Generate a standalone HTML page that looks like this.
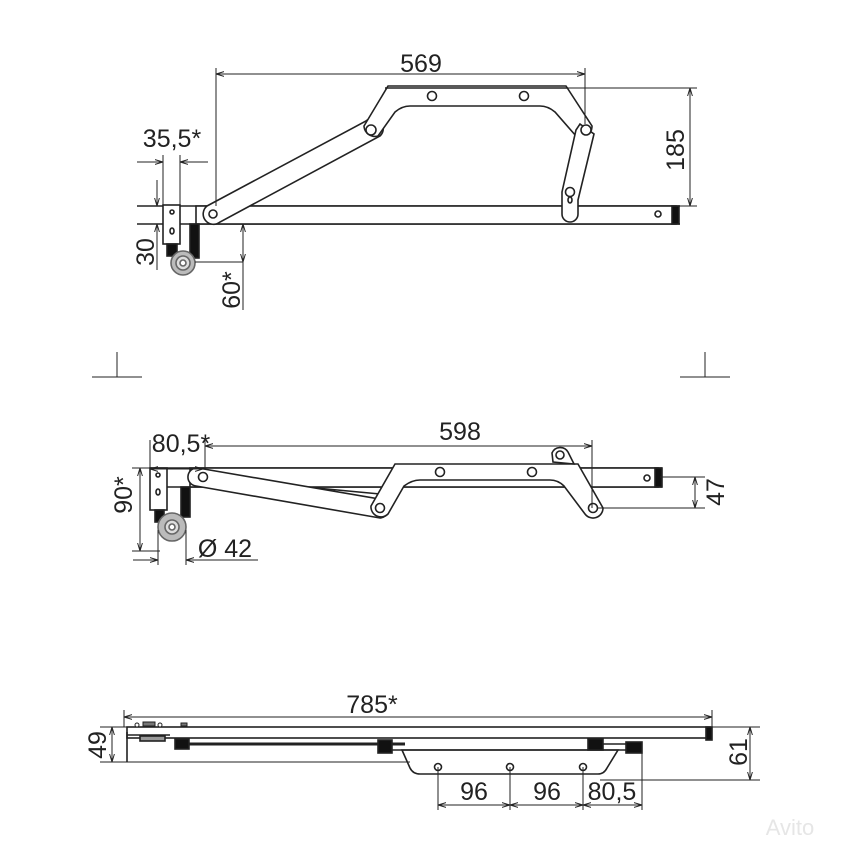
<!DOCTYPE html>
<html><head><meta charset="utf-8"><style>
html,body{margin:0;padding:0;background:#fff;}
svg{display:block;}
text{font-family:"Liberation Sans",sans-serif;font-size:25px;fill:#222;}
</style></head><body>
<svg width="851" height="851" viewBox="0 0 851 851" xmlns="http://www.w3.org/2000/svg">
<defs>
<marker id="a" viewBox="0 0 10 10" refX="10" refY="5" markerWidth="8" markerHeight="8" orient="auto-start-reverse"><path d="M0,2 L10,5 L0,8" fill="none" stroke="#222" stroke-width="1.2"/></marker>
</defs>
<g stroke="#222" stroke-width="1.6" fill="#fff">
<!-- ===== TOP VIEW ===== -->
<line x1="137" y1="206" x2="680" y2="206"/>
<line x1="137" y1="224" x2="680" y2="224"/>
<rect x="196" y="206" width="480" height="18"/>
<rect x="672" y="206" width="7" height="18" fill="#111"/>
<circle cx="658" cy="214" r="3"/>
<rect x="163" y="205" width="17" height="39"/>
<circle cx="172" cy="212" r="2"/>
<ellipse cx="172" cy="231" rx="2" ry="3"/>
<rect x="167" y="244" width="10" height="12" fill="#111"/>
<rect x="190" y="224" width="9" height="34" fill="#111"/>
<circle cx="183" cy="263" r="12" fill="#bbb" stroke="#666"/>
<circle cx="183" cy="263" r="7" fill="#ddd" stroke="#666"/>
<circle cx="183" cy="263" r="3" fill="#fff" stroke="#666"/>
<path d="M207,206 L366,121 A10,10 0 0 1 380,136 L220,222 A9,9 0 0 1 207,206 Z"/>
<circle cx="213" cy="214" r="4"/>
<path d="M364,126 L388,86 L566,86 L592,126 A11,11 0 0 1 576,136 L555,112 Q548,106 540,106 L410,106 Q402,106 395,112 L378,136 A11,11 0 0 1 364,126 Z"/>
<line x1="385" y1="88" x2="568" y2="88"/>
<circle cx="432" cy="96" r="4.5"/>
<circle cx="524" cy="96" r="4.5"/>
<circle cx="371" cy="130" r="5"/>
<path d="M580,124 L594,134 L578,200 L578,214 A8,8 0 0 1 562,214 L562,192 L576,130 Z"/>
<circle cx="586" cy="130" r="5"/>
<circle cx="570" cy="192" r="4.5"/>
<ellipse cx="570" cy="200" rx="2" ry="3"/>
<g fill="none" stroke-width="1">
<line x1="216" y1="68" x2="216" y2="206"/>
<line x1="585" y1="68" x2="585" y2="124"/>
<line x1="216" y1="74" x2="585" y2="74" marker-start="url(#a)" marker-end="url(#a)"/>
<line x1="565" y1="88" x2="697" y2="88"/>
<line x1="680" y1="206" x2="697" y2="206"/>
<line x1="690" y1="88" x2="690" y2="206" marker-start="url(#a)" marker-end="url(#a)"/>
<line x1="137" y1="162" x2="163" y2="162" marker-end="url(#a)"/>
<line x1="208" y1="162" x2="180" y2="162" marker-end="url(#a)"/>
<line x1="163" y1="155" x2="163" y2="205"/>
<line x1="180" y1="155" x2="180" y2="205"/>
<line x1="157" y1="180" x2="157" y2="206" marker-end="url(#a)"/>
<line x1="157" y1="270" x2="157" y2="224" marker-end="url(#a)"/>
<line x1="243" y1="224" x2="243" y2="310"/>
<line x1="195" y1="262" x2="243" y2="262"/>
<line x1="92" y1="377" x2="142" y2="377"/><line x1="117" y1="352" x2="117" y2="377"/>
<line x1="680" y1="377" x2="730" y2="377"/><line x1="705" y1="352" x2="705" y2="377"/>
</g>
<line x1="243" y1="224" x2="243" y2="262" fill="none" stroke-width="1" marker-start="url(#a)" marker-end="url(#a)"/>

<!-- ===== MIDDLE VIEW ===== -->
<line x1="150" y1="468" x2="662" y2="468"/>
<line x1="150" y1="487" x2="662" y2="487"/>
<rect x="190" y="468" width="468" height="19"/>
<rect x="655" y="468" width="7" height="19" fill="#111"/>
<circle cx="647" cy="478" r="3"/>
<rect x="150" y="468" width="17" height="42"/>
<circle cx="158" cy="475" r="2"/>
<ellipse cx="158" cy="492" rx="2" ry="3"/>
<rect x="155" y="510" width="9" height="12" fill="#111"/>
<rect x="181" y="487" width="9" height="30" fill="#111"/>
<circle cx="172" cy="527" r="14" fill="#bbb" stroke="#666"/>
<circle cx="172" cy="527" r="7" fill="#ddd" stroke="#666"/>
<circle cx="172" cy="527" r="3" fill="#fff" stroke="#666"/>
<line x1="210" y1="478" x2="380" y2="494"/>
<path d="M198,468 L385,500 A10,10 0 0 1 380,518 L196,486 A9,9 0 0 1 198,468 Z"/>
<circle cx="203" cy="477" r="4.5"/>
<path d="M371,506 L395,464 L578,464 L603,508 A10,10 0 0 1 585,514 L564,486 Q558,480 550,480 L420,480 Q412,480 404,486 L388,514 A10,10 0 0 1 371,506 Z"/>
<path d="M553,462 L552,453 A9,9 0 0 1 568,452 L574,464 Z"/>
<circle cx="560" cy="455" r="4"/>
<circle cx="440" cy="472" r="4.5"/>
<circle cx="532" cy="472" r="4.5"/>
<circle cx="380" cy="508" r="4.5"/>
<circle cx="593" cy="508" r="4.5"/>
<g fill="none" stroke-width="1">
<line x1="150" y1="440" x2="150" y2="468"/>
<line x1="205" y1="440" x2="205" y2="468"/>
<line x1="592" y1="440" x2="592" y2="508"/>
<line x1="205" y1="446" x2="592" y2="446" marker-start="url(#a)" marker-end="url(#a)"/>
<line x1="150" y1="469" x2="203" y2="469" marker-start="url(#a)" marker-end="url(#a)"/>
<line x1="132" y1="468" x2="150" y2="468"/>
<line x1="132" y1="551" x2="160" y2="551"/>
<line x1="140" y1="468" x2="140" y2="551" marker-start="url(#a)" marker-end="url(#a)"/>
<line x1="133" y1="560" x2="158" y2="560" marker-end="url(#a)"/>
<line x1="258" y1="560" x2="186" y2="560" marker-end="url(#a)"/>
<line x1="158" y1="530" x2="158" y2="565"/>
<line x1="186" y1="530" x2="186" y2="565"/>
<line x1="660" y1="477" x2="705" y2="477"/>
<line x1="598" y1="508" x2="705" y2="508"/>
<line x1="695" y1="477" x2="695" y2="508" marker-start="url(#a)" marker-end="url(#a)"/>
</g>

<!-- ===== BOTTOM VIEW ===== -->
<rect x="127" y="727" width="583" height="11"/>
<rect x="706" y="727" width="6" height="13" fill="#111"/>
<line x1="127" y1="732" x2="127" y2="762"/>
<line x1="127" y1="735" x2="170" y2="735"/>
<rect x="140" y="736" width="25" height="5" fill="#999"/>
<circle cx="137" cy="725" r="2" stroke-width="1"/>
<rect x="143" y="722" width="12" height="4" fill="#777" stroke-width="1"/>
<circle cx="160" cy="725" r="2" stroke-width="1"/>
<rect x="181" y="723" width="6" height="3" fill="#777" stroke-width="1"/>
<line x1="180" y1="744" x2="405" y2="744" stroke-width="3"/>
<rect x="175" y="739" width="14" height="10" fill="#111"/>
<rect x="378" y="740" width="14" height="13" fill="#111"/>
<path d="M402,750 L410,768 Q413,774 420,774 L598,774 Q604,774 607,768 L618,750 Z"/>
<line x1="392" y1="750" x2="640" y2="750"/>
<line x1="596" y1="744" x2="640" y2="744"/>
<rect x="588" y="739" width="15" height="11" fill="#111"/>
<rect x="626" y="742" width="16" height="11" fill="#111"/>
<circle cx="438" cy="767" r="3.5"/>
<circle cx="510" cy="767" r="3.5"/>
<circle cx="583" cy="767" r="3.5"/>
<g fill="none" stroke-width="1">
<line x1="124" y1="710" x2="124" y2="727"/>
<line x1="712" y1="710" x2="712" y2="727"/>
<line x1="124" y1="717" x2="712" y2="717" marker-start="url(#a)" marker-end="url(#a)"/>
<line x1="100" y1="727" x2="127" y2="727"/>
<line x1="100" y1="762" x2="410" y2="762"/>
<line x1="112" y1="727" x2="112" y2="762" marker-start="url(#a)" marker-end="url(#a)"/>
<line x1="712" y1="727" x2="760" y2="727"/>
<line x1="600" y1="780" x2="760" y2="780"/>
<line x1="750" y1="727" x2="750" y2="780" marker-start="url(#a)" marker-end="url(#a)"/>
<line x1="438" y1="767" x2="438" y2="810"/>
<line x1="510" y1="767" x2="510" y2="810"/>
<line x1="583" y1="767" x2="583" y2="810"/>
<line x1="642" y1="752" x2="642" y2="810"/>
<line x1="438" y1="805" x2="510" y2="805" marker-start="url(#a)" marker-end="url(#a)"/>
<line x1="510" y1="805" x2="583" y2="805" marker-start="url(#a)" marker-end="url(#a)"/>
<line x1="583" y1="805" x2="642" y2="805" marker-start="url(#a)" marker-end="url(#a)"/>
</g>
</g>
<text x="421" y="72" text-anchor="middle">569</text>
<text x="172" y="147" text-anchor="middle">35,5*</text>
<text transform="translate(684,150) rotate(-90)" text-anchor="middle">185</text>
<text transform="translate(154,252) rotate(-90)" text-anchor="middle">30</text>
<text transform="translate(240,290) rotate(-90)" text-anchor="middle">60*</text>
<text x="460" y="440" text-anchor="middle">598</text>
<text x="181" y="452" text-anchor="middle">80,5*</text>
<text transform="translate(132,495) rotate(-90)" text-anchor="middle">90*</text>
<text x="225" y="557" text-anchor="middle">Ø 42</text>
<text transform="translate(724,492) rotate(-90)" text-anchor="middle">47</text>
<text transform="translate(747,752) rotate(-90)" text-anchor="middle">61</text>
<text x="372" y="713" text-anchor="middle">785*</text>
<text transform="translate(106,745) rotate(-90)" text-anchor="middle">49</text>
<text x="474" y="800" text-anchor="middle">96</text>
<text x="547" y="800" text-anchor="middle">96</text>
<text x="612" y="800" text-anchor="middle">80,5</text>
<text x="790" y="835" text-anchor="middle" style="fill:#e6e6e6;font-size:22px">Avito</text>
</svg>
</body></html>
